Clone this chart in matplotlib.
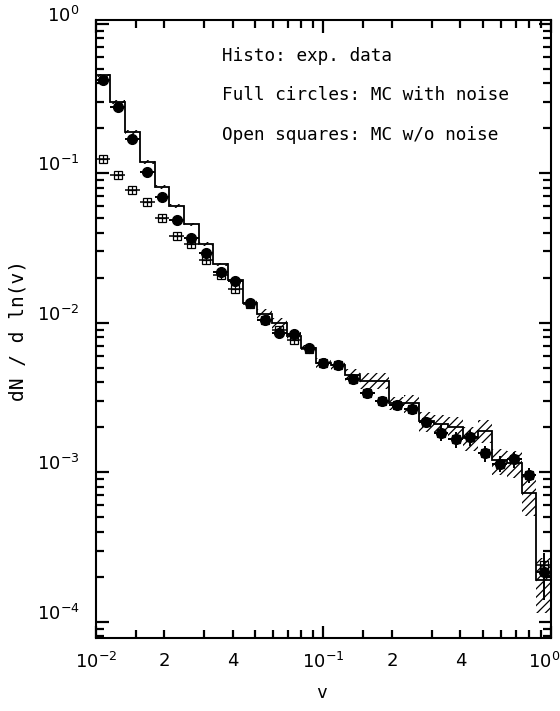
import matplotlib
matplotlib.use("Agg")
import matplotlib.pyplot as plt
import numpy as np
from matplotlib.ticker import FixedLocator, NullFormatter

plt.rcParams['font.family'] = ['DejaVu Sans']
plt.rcParams['mathtext.default'] = 'regular'
plt.rcParams['hatch.linewidth'] = 0.9

# 31 bins, log-uniform in v from 0.01 to 1
edges = np.logspace(-2, 0, 32)

# histogram: exp. data
hist = [0.453, 0.300, 0.189, 0.119, 0.081, 0.0605, 0.0457, 0.0337, 0.0246, 0.0193,
        0.0136, 0.0114, 0.0099, 0.0082, 0.0068, 0.0054, 0.0052, 0.0045, 0.0041, 0.0041,
        0.0029, 0.0029, 0.0022, 0.0021, 0.0020, 0.0017, 0.0019, 0.0012, 0.00115, 0.00073,
        0.00019]
hist_err = [0.025] * 10 + [0.04, 0.08, 0.08, 0.06, 0.05, 0.07, 0.07, 0.09, 0.12, 0.12,
                           0.10, 0.14, 0.15, 0.16, 0.18, 0.18, 0.17, 0.20, 0.20, 0.30, 0.40]

# full circles: MC with noise
circles = [0.42, 0.278, 0.170, 0.102, 0.069, 0.0489, 0.0367, 0.0291, 0.0219, 0.0191,
           0.0136, 0.0105, 0.0085, 0.0084, 0.0068, 0.0054, 0.0052, 0.0042, 0.0034, 0.0030,
           0.0028, 0.00265, 0.00218, 0.00184, 0.00166, 0.00171, 0.00134, 0.00114, 0.00122,
           0.00096, 0.000215]
circ_err = [0.02] * 11 + [0.04] * 6 + [0.07] * 6 + [0.12] * 7 + [0.35]

# open squares: MC w/o noise
squares = [0.124, 0.098, 0.0775, 0.0638, 0.0499, 0.0378, 0.0334, 0.0262, 0.0208, 0.0169,
           0.0133, 0.0105, 0.0089, 0.0077, 0.0067, 0.0054, 0.0052, 0.0042, 0.0034, 0.0030,
           0.0028, 0.00265, 0.00218, 0.00184, 0.00166, 0.00171, 0.00134, 0.00114, 0.00122,
           0.00096, 0.00024]

xticks_lab = ['$10^{-2}$', '2', '4', '$10^{-1}$', '2', '4', '$10^{0}$']
xticks_pos = [0.01, 0.02, 0.04, 0.1, 0.2, 0.4, 1.0]
yticks_lab = ['$10^{-4}$', '$10^{-3}$', '$10^{-2}$', '$10^{-1}$', '$10^{0}$']
yticks_pos = [1e-4, 1e-3, 1e-2, 1e-1, 1.0]

hist = np.array(hist)
hist_err = np.array(hist_err) * hist
circles = np.array(circles)
circ_err = np.array(circ_err) * circles
squares = np.array(squares)

centers = np.sqrt(edges[:-1] * edges[1:])
xerr = np.vstack([centers - edges[:-1], edges[1:] - centers])

fig = plt.figure(figsize=(5.6, 7.11), dpi=100)
ax = fig.add_axes([0.171, 0.1027, 0.813, 0.8692])

# hatched error band
lo = np.append(hist - hist_err, (hist - hist_err)[-1])
hi = np.append(hist + hist_err, (hist + hist_err)[-1])
ax.fill_between(edges, lo, hi, step='post', facecolor='none', edgecolor='black',
                hatch='////', linewidth=0)
ax.stairs(hist, edges, color='black', linewidth=1.3)

ax.errorbar(centers, squares, xerr=xerr, fmt='s', ms=6, mfc='none', mec='black',
            mew=0.9, ecolor='black', elinewidth=1.1, capsize=0)
ax.plot(centers, squares, '+', ms=6, mew=0.9, color='black')
ax.errorbar(centers, circles, xerr=xerr, yerr=circ_err, fmt='o', ms=7, color='black',
            ecolor='black', elinewidth=1.4, capsize=0)

ax.set_xscale('log')
ax.set_yscale('log')
ax.set_xlim(0.01, 1.0)
ax.set_ylim(7.8e-5, 1.06)

ax.xaxis.set_major_locator(FixedLocator([0.01, 0.1, 1.0]))
ax.xaxis.set_major_formatter(NullFormatter())
xminor = [m * d for d in (0.01, 0.1) for m in (1.5, 2, 3, 4, 5, 6, 7, 8, 9)]
ax.xaxis.set_minor_locator(FixedLocator(xminor))
ax.xaxis.set_minor_formatter(NullFormatter())

ax.yaxis.set_major_locator(FixedLocator(yticks_pos))
ax.yaxis.set_major_formatter(NullFormatter())
yminor = [m * 10.0 ** p for p in range(-5, 0) for m in range(2, 10)]
ax.yaxis.set_minor_locator(FixedLocator(yminor))
ax.yaxis.set_minor_formatter(NullFormatter())

ax.tick_params(which='both', direction='in', top=True, right=True, width=1.6)
ax.tick_params(which='major', length=9)
ax.tick_params(which='minor', length=6)
for s in ax.spines.values():
    s.set_linewidth(1.5)

# tick labels
for xv, t in zip(xticks_pos, xticks_lab):
    dx = -7 if xv == 1.0 else 0
    ax.annotate(t, (xv, 0), xycoords=('data', 'axes fraction'), xytext=(dx, -14),
                textcoords='offset pixels', ha='center', va='top', fontsize=13)
for yv, t in zip(yticks_pos, yticks_lab):
    ax.annotate(t, (0, yv), xycoords=('axes fraction', 'data'), xytext=(-16, 8),
                textcoords='offset pixels', ha='right', va='center', fontsize=13)

fig.text(0.575, 0.012, 'v', ha='center', va='bottom', fontsize=13,
         family='DejaVu Sans Mono')
fig.text(0.016, 0.535, 'dN / d ln(v)', rotation=90, ha='left', va='center', fontsize=14,
         family='DejaVu Sans Mono')

notes = ['Histo: exp. data', 'Full circles: MC with noise', 'Open squares: MC w/o noise']
for i, t in enumerate(notes):
    ax.text(0.277, 0.942 - i * 0.064, t, transform=ax.transAxes, ha='left', va='center',
            fontsize=12.8, family='DejaVu Sans Mono')

fig.savefig('out.png', dpi=100)
